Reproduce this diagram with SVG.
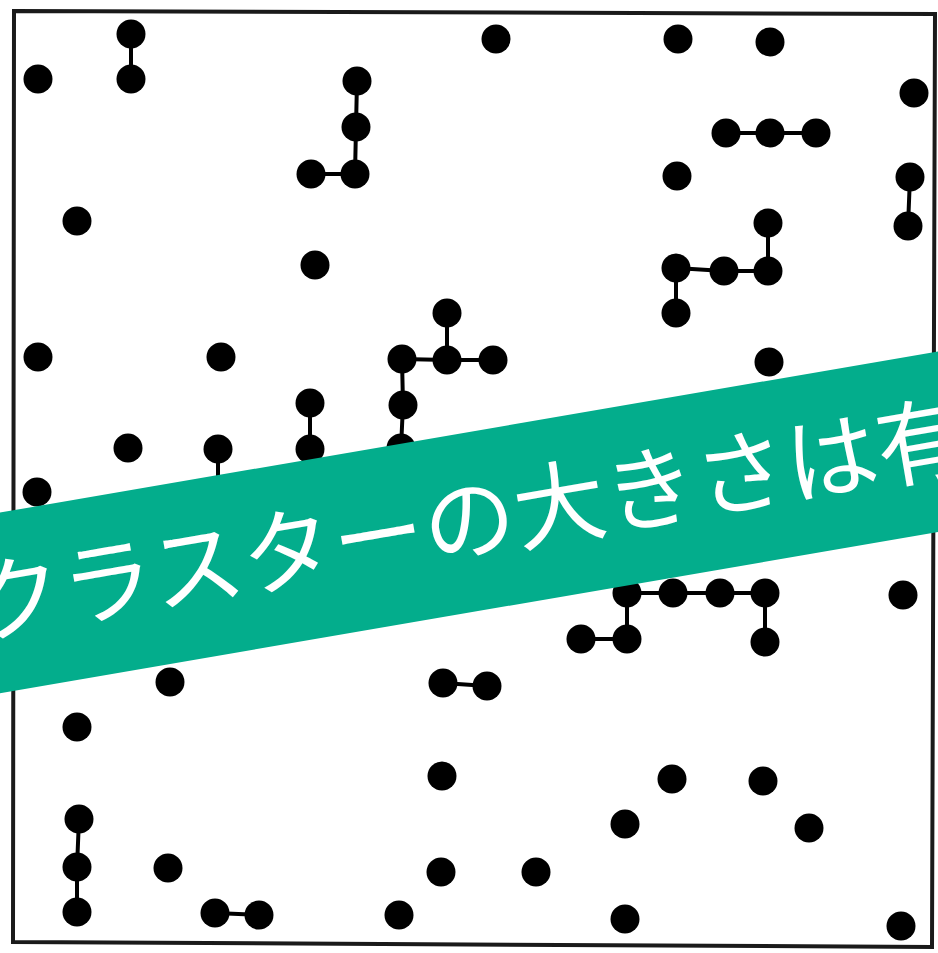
<svg xmlns="http://www.w3.org/2000/svg" width="938" height="953" viewBox="0 0 938 953">
<style>
.dot{fill:#000}
.bond{stroke:#000;stroke-width:4;fill:none;stroke-linecap:round;stroke-linejoin:round}
.frame{fill:none;stroke:#1a1a1a;stroke-width:4}
.banner{fill:#03ad8c}
.label{fill:#fff;font-family:"Noto Sans CJK JP","Noto Sans",sans-serif;font-size:92px;font-weight:400}
</style>
<rect width="938" height="953" fill="#fff"/>
<polygon class="frame" points="14,11 935,14 932,947 13,942"/>
<g id="connectors">
<polyline class="bond" points="131,34 131,79"/>
<polyline class="bond" points="357,81 356,127 355,174 311,174"/>
<polyline class="bond" points="726,133 770,133 816,133"/>
<polyline class="bond" points="910,177 908,226"/>
<polyline class="bond" points="768,223 768,271 724,271 676,268 676,313"/>
<polyline class="bond" points="447,313 447,360"/>
<polyline class="bond" points="493,360 447,360 402,359 403,405 401,448"/>
<polyline class="bond" points="310,403 310,449"/>
<polyline class="bond" points="218,449 218,494"/>
<polyline class="bond" points="765,642 765,593 720,593 673,593 627,593 627,639 581,639"/>
<polyline class="bond" points="443,683 487,686"/>
<polyline class="bond" points="79,819 77,867 77,912"/>
<polyline class="bond" points="215,913 259,915"/>
</g>
<g id="nodes">
<g id="n1"><circle class="dot" cx="131" cy="34" r="14.5"/></g>
<g id="n2"><circle class="dot" cx="131" cy="79" r="14.5"/></g>
<g id="n3"><circle class="dot" cx="38" cy="79" r="14.5"/></g>
<g id="n4"><circle class="dot" cx="357" cy="81" r="14.5"/></g>
<g id="n5"><circle class="dot" cx="356" cy="127" r="14.5"/></g>
<g id="n6"><circle class="dot" cx="355" cy="174" r="14.5"/></g>
<g id="n7"><circle class="dot" cx="311" cy="174" r="14.5"/></g>
<g id="n8"><circle class="dot" cx="77" cy="221" r="14.5"/></g>
<g id="n9"><circle class="dot" cx="315" cy="265" r="14.5"/></g>
<g id="n10"><circle class="dot" cx="496" cy="39" r="14.5"/></g>
<g id="n11"><circle class="dot" cx="678" cy="39" r="14.5"/></g>
<g id="n12"><circle class="dot" cx="770" cy="42" r="14.5"/></g>
<g id="n13"><circle class="dot" cx="914" cy="93" r="14.5"/></g>
<g id="n14"><circle class="dot" cx="726" cy="133" r="14.5"/></g>
<g id="n15"><circle class="dot" cx="770" cy="133" r="14.5"/></g>
<g id="n16"><circle class="dot" cx="816" cy="133" r="14.5"/></g>
<g id="n17"><circle class="dot" cx="677" cy="176" r="14.5"/></g>
<g id="n18"><circle class="dot" cx="910" cy="177" r="14.5"/></g>
<g id="n19"><circle class="dot" cx="908" cy="226" r="14.5"/></g>
<g id="n20"><circle class="dot" cx="768" cy="223" r="14.5"/></g>
<g id="n21"><circle class="dot" cx="676" cy="268" r="14.5"/></g>
<g id="n22"><circle class="dot" cx="724" cy="271" r="14.5"/></g>
<g id="n23"><circle class="dot" cx="768" cy="271" r="14.5"/></g>
<g id="n24"><circle class="dot" cx="676" cy="313" r="14.5"/></g>
<g id="n25"><circle class="dot" cx="447" cy="313" r="14.5"/></g>
<g id="n26"><circle class="dot" cx="402" cy="359" r="14.5"/></g>
<g id="n27"><circle class="dot" cx="447" cy="360" r="14.5"/></g>
<g id="n28"><circle class="dot" cx="493" cy="360" r="14.5"/></g>
<g id="n29"><circle class="dot" cx="403" cy="405" r="14.5"/></g>
<g id="n30"><circle class="dot" cx="401" cy="448" r="14.5"/></g>
<g id="n31"><circle class="dot" cx="38" cy="357" r="14.5"/></g>
<g id="n32"><circle class="dot" cx="221" cy="357" r="14.5"/></g>
<g id="n33"><circle class="dot" cx="310" cy="403" r="14.5"/></g>
<g id="n34"><circle class="dot" cx="310" cy="449" r="14.5"/></g>
<g id="n35"><circle class="dot" cx="128" cy="448" r="14.5"/></g>
<g id="n36"><circle class="dot" cx="218" cy="449" r="14.5"/></g>
<g id="n37"><circle class="dot" cx="37" cy="492" r="14.5"/></g>
<g id="n38"><circle class="dot" cx="769" cy="362" r="14.5"/></g>
<g id="n39"><circle class="dot" cx="627" cy="593" r="14.5"/></g>
<g id="n40"><circle class="dot" cx="673" cy="593" r="14.5"/></g>
<g id="n41"><circle class="dot" cx="720" cy="593" r="14.5"/></g>
<g id="n42"><circle class="dot" cx="765" cy="593" r="14.5"/></g>
<g id="n43"><circle class="dot" cx="765" cy="642" r="14.5"/></g>
<g id="n44"><circle class="dot" cx="627" cy="639" r="14.5"/></g>
<g id="n45"><circle class="dot" cx="581" cy="639" r="14.5"/></g>
<g id="n46"><circle class="dot" cx="903" cy="595" r="14.5"/></g>
<g id="n47"><circle class="dot" cx="170" cy="682" r="14.5"/></g>
<g id="n48"><circle class="dot" cx="443" cy="683" r="14.5"/></g>
<g id="n49"><circle class="dot" cx="487" cy="686" r="14.5"/></g>
<g id="n50"><circle class="dot" cx="77" cy="727" r="14.5"/></g>
<g id="n51"><circle class="dot" cx="442" cy="776" r="14.5"/></g>
<g id="n52"><circle class="dot" cx="672" cy="779" r="14.5"/></g>
<g id="n53"><circle class="dot" cx="763" cy="781" r="14.5"/></g>
<g id="n54"><circle class="dot" cx="79" cy="819" r="14.5"/></g>
<g id="n55"><circle class="dot" cx="77" cy="867" r="14.5"/></g>
<g id="n56"><circle class="dot" cx="77" cy="912" r="14.5"/></g>
<g id="n57"><circle class="dot" cx="625" cy="824" r="14.5"/></g>
<g id="n58"><circle class="dot" cx="809" cy="828" r="14.5"/></g>
<g id="n59"><circle class="dot" cx="168" cy="868" r="14.5"/></g>
<g id="n60"><circle class="dot" cx="441" cy="872" r="14.5"/></g>
<g id="n61"><circle class="dot" cx="536" cy="872" r="14.5"/></g>
<g id="n62"><circle class="dot" cx="215" cy="913" r="14.5"/></g>
<g id="n63"><circle class="dot" cx="259" cy="915" r="14.5"/></g>
<g id="n64"><circle class="dot" cx="399" cy="915" r="14.5"/></g>
<g id="n65"><circle class="dot" cx="625" cy="919" r="14.5"/></g>
<g id="n66"><circle class="dot" cx="901" cy="926" r="14.5"/></g>
</g>
<g id="banner" transform="translate(469,522.3) rotate(-9.75)">
<rect class="banner" x="-700" y="-89" width="1400" height="178"/>
<text class="label" x="-504" y="-9" dominant-baseline="central">クラスターの大きさは有</text>
</g>
</svg>
